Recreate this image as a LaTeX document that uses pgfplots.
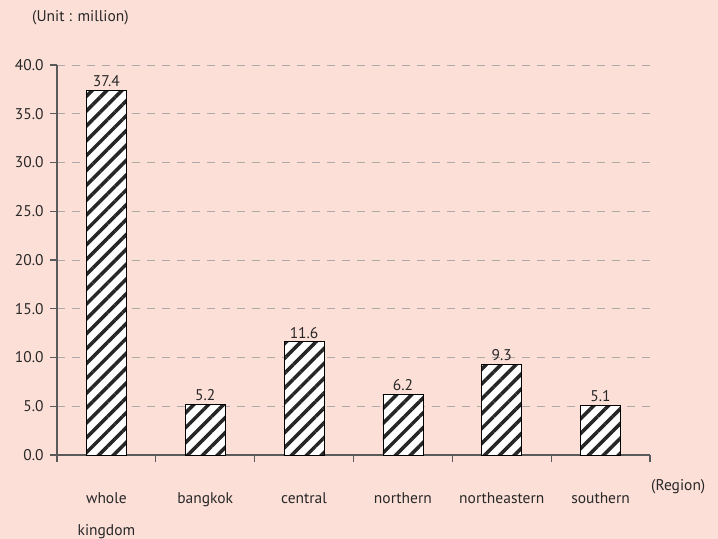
\documentclass[border=0pt]{standalone}
\usepackage{pgfplots}
\pgfplotsset{compat=1.18}
\usepackage{fontspec}
\setmainfont{PT Sans}
\usetikzlibrary{patterns.meta}
\definecolor{bgc}{RGB}{252,223,215}
\definecolor{txt}{RGB}{40,40,40}
\definecolor{axc}{RGB}{90,90,90}
\definecolor{grd}{RGB}{175,170,170}
\newcommand{\ff}{\fontsize{15.5bp}{17bp}\selectfont}
\begin{document}
\ff
\begin{tikzpicture}
\fill[bgc] (-57bp,-84bp) rectangle (661bp,455bp);
\begin{axis}[
  at={(0,0)}, anchor=south west,
  scale only axis, width=593bp, height=390bp,
  xmin=-0.5, xmax=5.5, ymin=0, ymax=40,
  axis lines=left, axis line style={axc, line width=1.2bp, -},
  xtick={0,...,5},
  xticklabels={{whole\\[15bp]kingdom},bangkok,central,northern,northeastern,southern},
  minor xtick={-0.5,0.5,...,5.5},
  major x tick style={draw=none},
  minor x tick style={axc, line width=1.2bp},
  minor tick length=7bp,
  ytick={0,5,...,40},
  y tick style={axc, line width=1.2bp},
  major tick length=7bp,
  tick align=outside,
  ymajorgrids, major grid style={grd, dash pattern=on 8bp off 7bp, line width=0.8bp},
  ticklabel style={text=txt, font=\ff},
  xticklabel style={align=center, yshift=-25bp},
  yticklabel style={xshift=-1bp, /pgf/number format/.cd, fixed, fixed zerofill, precision=1, assume math mode=true},
  ybar, bar width=40bp,
  nodes near coords,
  nodes near coords style={text=txt, font=\ff, inner sep=3bp, /pgf/number format/.cd, fixed, fixed zerofill, precision=1, assume math mode=true},
  clip=false,
]
\addplot[draw=black, line width=0.8bp, fill=white,
  postaction={pattern={Lines[angle=45, distance=10.5bp, line width=3.5bp]}, pattern color=black!85}]
  coordinates {(0,37.4) (1,5.2) (2,11.6) (3,6.2) (4,9.3) (5,5.1)};
\end{axis}
\node[anchor=west, text=txt, inner sep=0pt] at (-25bp,437bp) {(Unit : million)};
\node[anchor=west, text=txt, inner sep=0pt] at (594bp,-32bp) {(Region)};
\pgfresetboundingbox
\path[use as bounding box] (-57bp,-84bp) rectangle (661bp,455bp);
\end{tikzpicture}
\end{document}
